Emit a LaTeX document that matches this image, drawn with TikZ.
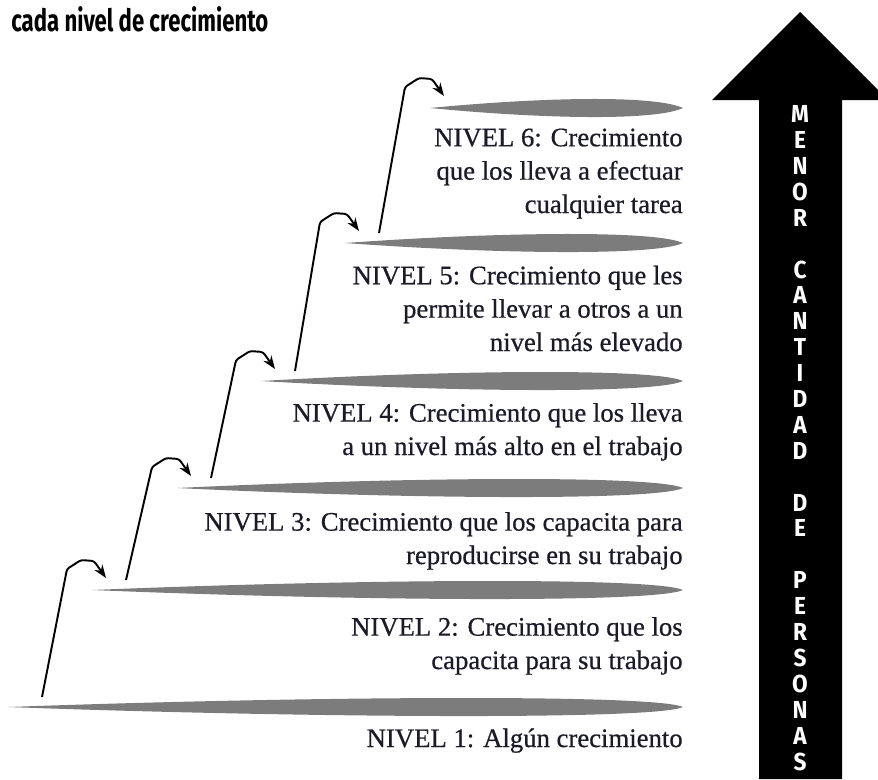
\documentclass[tikz,border=0pt]{standalone}
\usepackage{fontspec}
\setmainfont{Liberation Serif}
\newfontfamily\levfont[FakeBold=0.6]{Liberation Serif}
\newfontfamily\condfont[FakeStretch=0.92]{Fira Sans}
\newfontfamily\titlefont[FakeStretch=0.72]{Fira Sans}
\usetikzlibrary{arrows.meta}
\definecolor{plategray}{RGB}{124,124,124}
\definecolor{inkblue}{RGB}{26,26,40}
\newcommand{\lvlplate}[2]{%
  \fill[plategray] (#1,#2) .. controls ({#1+0.45*(683-#1)},{#2-11}) and (655,{#2-13}) .. (683,#2)
    .. controls (655,{#2+13}) and ({#1+0.45*(683-#1)},{#2+11}) .. cycle;}

\begin{document}
\begin{tikzpicture}[x=0.02cm,y=-0.02cm,
  climb/.style={line width=1.1pt,-{Stealth[length=7.5pt,width=5.5pt]},rounded corners=1.5pt},
  levtext/.style={anchor=base east,align=right,inner sep=0pt,text=inkblue,
    font=\levfont\fontsize{15.2}{19}\selectfont},
  arrowtext/.style={align=center,inner sep=0pt,text=white,
    font=\condfont\bfseries\fontsize{14}{14.74}\selectfont}]
\useasboundingbox (0,0) rectangle (878,779);
\clip (0,0) rectangle (878,779);

\node[anchor=base west,inner sep=0pt,text=black,
  font=\titlefont\bfseries\fontsize{17.5}{20}\selectfont] (title) at (11,31) {cada nivel de crecimiento};

% the six levels
\coordinate (lv1) at (8,707);
\coordinate (lv2) at (92,590);
\coordinate (lv3) at (177,488);
\coordinate (lv4) at (261,381);
\coordinate (lv5) at (345,243);
\coordinate (lv6) at (430,108);

\lvlplate{8}{707}
\lvlplate{92}{590}
\lvlplate{177}{488}
\lvlplate{261}{381}
\lvlplate{345}{243}
\lvlplate{430}{108}

% base anchor sits on the last line
\node[levtext] (t1) at (683,747) {NIVEL 1: Algún crecimiento};
\node[levtext] (t2) at (683,669) {NIVEL 2: Crecimiento que los\\capacita para su trabajo};
\node[levtext] (t3) at (683,564) {NIVEL 3: Crecimiento que los capacita para\\reproducirse en su trabajo};
\node[levtext] (t4) at (683,455) {NIVEL 4: Crecimiento que los lleva\\a un nivel más alto en el trabajo};
\node[levtext] (t5) at (683,351) {NIVEL 5: Crecimiento que les\\permite llevar a otros a un\\nivel más elevado};
\node[levtext] (t6) at (683,213) {NIVEL 6: Crecimiento\\que los lleva a efectuar\\cualquier tarea};

% steps up
\draw[climb] ([shift={(34,-10)}]lv1) -- ([shift={(-25,-21)}]lv2) -- ([shift={(-11,-30)}]lv2)
  -- ([shift={(2,-29)}]lv2) -- ([shift={(14,-12)}]lv2);
\draw[climb] ([shift={(34,-10)}]lv2) -- ([shift={(-25,-21)}]lv3) -- ([shift={(-11,-30)}]lv3)
  -- ([shift={(2,-29)}]lv3) -- ([shift={(14,-12)}]lv3);
\draw[climb] ([shift={(34,-10)}]lv3) -- ([shift={(-25,-21)}]lv4) -- ([shift={(-11,-30)}]lv4)
  -- ([shift={(2,-29)}]lv4) -- ([shift={(14,-12)}]lv4);
\draw[climb] ([shift={(34,-10)}]lv4) -- ([shift={(-25,-21)}]lv5) -- ([shift={(-11,-30)}]lv5)
  -- ([shift={(2,-29)}]lv5) -- ([shift={(14,-12)}]lv5);
\draw[climb] ([shift={(34,-10)}]lv5) -- ([shift={(-25,-21)}]lv6) -- ([shift={(-11,-30)}]lv6)
  -- ([shift={(2,-29)}]lv6) -- ([shift={(14,-12)}]lv6);

% big arrow
\fill[black] (759,779) -- (759,100) -- (712,100) -- (800,12) -- (888,100)
  -- (842,100) -- (842,779) -- cycle;
\node[arrowtext] (menor) at (800,438) {M\\E\\N\\O\\R\\[14.74pt]C\\A\\N\\T\\I\\D\\A\\D\\[14.74pt]D\\E\\[14.74pt]P\\E\\R\\S\\O\\N\\A\\S};
\end{tikzpicture}
\end{document}
